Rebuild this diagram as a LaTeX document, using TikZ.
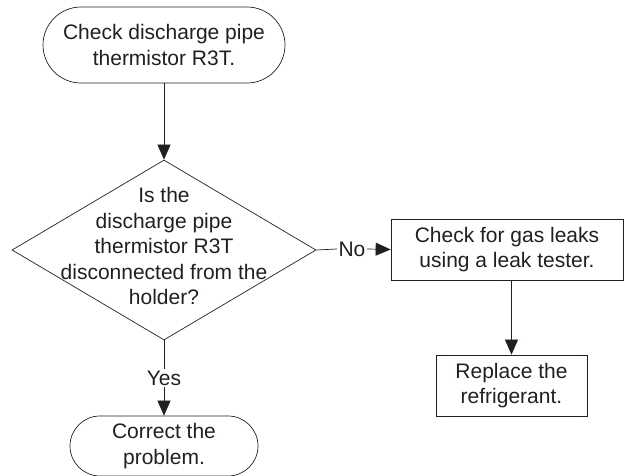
\documentclass[tikz,border=0pt]{standalone}
\usepackage{fontspec}
\setmainfont{Liberation Sans}
\usetikzlibrary{shapes.geometric,arrows.meta}
\definecolor{ink}{HTML}{231F20}
\tikzset{
  every node/.style={font=\fontsize{21}{25.5}\selectfont, text=ink},
  terminal/.style={draw=ink, line width=0.7pt, align=center, inner sep=0pt},
  procbox/.style={draw=ink, line width=0.7pt, align=center, inner sep=0pt},
  decision/.style={draw=ink, line width=0.7pt, diamond, inner sep=0pt, minimum width=304pt, minimum height=180pt},
  flow/.style={draw=ink, line width=0.7pt, -{Triangle[length=15pt,width=13pt]}},
  plain/.style={draw=ink, line width=0.7pt},
  lbl/.style={inner sep=1.5pt}
}
\begin{document}
\begin{tikzpicture}[x=1pt,y=-1pt]
\useasboundingbox (0,0) rectangle (625,476);
\node[terminal, minimum width=242pt, minimum height=76pt, rounded corners=38pt] (start) at (164,45) {Check discharge pipe\\thermistor R3T.};
\node[decision] (dia) at (164,250) {};
\node[align=center] (diatext) at (164,246) {Is the\\discharge pipe\\thermistor R3T\\disconnected from the\\holder?};
\node[procbox, minimum width=232pt, minimum height=61pt] (leak) at (507,249.5) {Check for gas leaks\\using a leak tester.};
\node[procbox, minimum width=151pt, minimum height=61pt] (repl) at (511.5,385.5) {Replace the\\refrigerant.};
\node[terminal, minimum width=188pt, minimum height=60pt, rounded corners=30pt] (end) at (164,446) {Correct the\\problem.};
\node[lbl] (no) at (352,249) {No};
\node[lbl] (yes) at (164,378) {Yes};
\draw[flow] (start.south) -- (dia.north);
\draw[plain] (dia.east) -- (no.west);
\draw[flow] (no.east) -- (leak.west);
\draw[flow] (repl.north |- leak.south) -- (repl.north);
\draw[plain] (dia.south) -- (yes.north);
\draw[flow] (yes.south) -- (end.north);
\end{tikzpicture}
\end{document}
